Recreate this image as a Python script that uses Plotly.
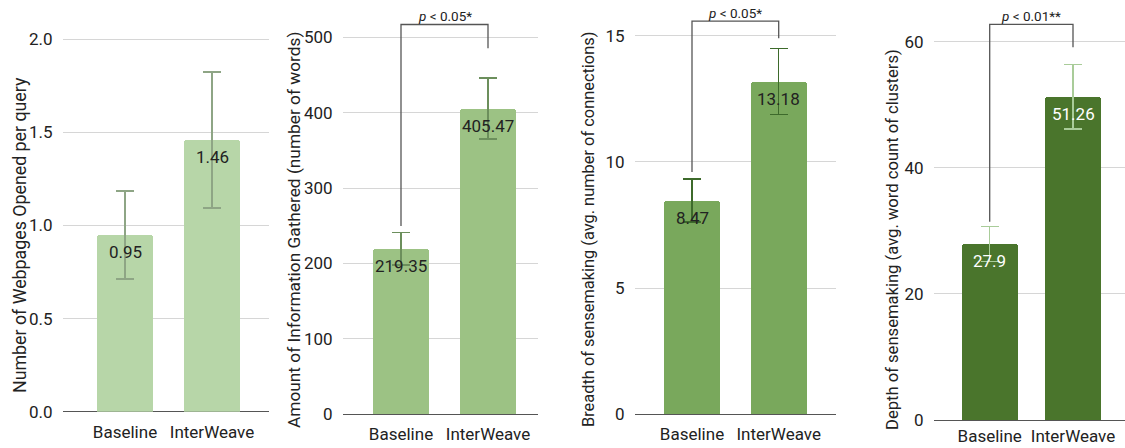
import plotly.graph_objects as go

# ---------------- data ----------------
categories = ["Baseline", "InterWeave"]

webpages_mean = [0.95, 1.46]
webpages_err = [0.236, 0.365]

info_mean = [219.35, 405.47]
info_err = [21.5, 40.5]

breadth_mean = [8.47, 13.18]
breadth_err = [0.85, 1.31]

depth_mean = [27.9, 51.26]
depth_err = [2.76, 5.1]

y_titles = [
    "Number of Webpages Opened per query",
    "Amount of Information Gathered (number of words)",
    "Breadth of sensemaking (avg. number of connections)",
    "Depth of sensemaking (avg. word count of clusters)",
]
sig_labels = [None, "<i>p</i> < 0.05*", "<i>p</i> < 0.05*", "<i>p</i> < 0.01**"]

tick_values = [
    [0, 0.5, 1.0, 1.5, 2.0],
    [0, 100, 200, 300, 400, 500],
    [0, 5, 10, 15],
    [0, 20, 40, 60],
]
tick_formats = [".1f", "d", "d", "d"]

# ---------------- styling / layout ----------------
W, H = 1125, 448
FONT = "Roboto, Arial, sans-serif"
bar_colors = ["#b7d6a8", "#9cc284", "#79a85c", "#4a752c"]
err_colors = ["#8ea585", "#6c8f5c", "#3d6a2b", "#a9cc99"]
label_colors = ["#222222", "#222222", "#222222", "#ffffff"]
title_sizes = [17.8, 17.3, 16.4, 16.6]

# pixel geometry per panel: x domain, zero-line px, px per unit, top px, bar-center px, spacing px
panels = [
    dict(x0=63, x1=269, zero=411.7, unit=186.2, top=30, c0=125, sp=87.0, tl=5),
    dict(x0=343, x1=538, zero=414.3, unit=0.754, top=3, c0=401, sp=87.0, tl=4),
    dict(x0=635, x1=836, zero=414.3, unit=25.24, top=3, c0=692, sp=86.7, tl=4),
    dict(x0=934, x1=1125, zero=420.0, unit=6.305, top=3, c0=989.7, sp=83.3, tl=1),
]
title_x = [19, 294, 589, 892]
title_y = [235, 230, 230, 240]
# bracket: (left leg bottom, top, right leg bottom) in data units
brackets = [None, (249.7, 517, 485.4), (9.6, 15.58, 14.9), (31.45, 62.76, 59.1)]

means = [webpages_mean, info_mean, breadth_mean, depth_mean]
errs = [webpages_err, info_err, breadth_err, depth_err]

fig = go.Figure()
annotations = []
shapes = []

for i, p in enumerate(panels):
    n = "" if i == 0 else str(i + 1)
    xa, ya = "x" + n, "y" + n
    xr = [(p["x0"] - p["c0"]) / p["sp"], (p["x1"] - p["c0"]) / p["sp"]]
    ymax = (p["zero"] - p["top"]) / p["unit"]
    fig.add_trace(go.Bar(
        x=categories, y=means[i], xaxis=xa, yaxis=ya,
        marker=dict(color=bar_colors[i], line=dict(width=0), cornerradius=3),
        width=56 / p["sp"],
        error_y=dict(type="data", array=errs[i], color=err_colors[i], thickness=1.5, width=9),
        showlegend=False, hoverinfo="skip",
    ))
    fig.update_layout(**{
        ("xaxis" + n): dict(
            domain=[p["x0"] / W, p["x1"] / W], range=xr, anchor=ya,
            showgrid=False, zeroline=False, showline=False, automargin=False,
            ticks="outside", ticklen=p["tl"], tickcolor="rgba(0,0,0,0)",
            tickfont=dict(family=FONT, size=17, color="#222222"),
            fixedrange=True,
        ),
        ("yaxis" + n): dict(
            domain=[1 - p["zero"] / H, 1 - p["top"] / H], range=[0, ymax], anchor=xa,
            tickvals=tick_values[i], tickformat=tick_formats[i], automargin=False,
            showgrid=True, gridcolor="#d6d6d6", gridwidth=1,
            zeroline=True, zerolinecolor="#555555", zerolinewidth=1.3,
            showline=False, ticks="outside", ticklen=6, tickcolor="rgba(0,0,0,0)",
            tickfont=dict(family=FONT, size=17, color="#222222"),
            fixedrange=True,
        ),
    })
    # value labels inside bars
    for c, v in zip(categories, means[i]):
        annotations.append(dict(
            x=c, y=v, xref=xa, yref=ya, text=f"{v:g}", showarrow=False,
            yanchor="middle", yshift=-17,
            font=dict(family=FONT, size=17, color=label_colors[i]),
        ))
    # y axis title
    annotations.append(dict(
        x=title_x[i] / W, y=1 - title_y[i] / H, xref="paper", yref="paper",
        text=y_titles[i], textangle=-90, showarrow=False,
        xanchor="center", yanchor="middle",
        font=dict(family=FONT, size=title_sizes[i], color="#222222"),
    ))
    # significance bracket
    if brackets[i] is not None:
        lb, tp, rb = brackets[i]
        shapes.append(dict(
            type="path", xref=xa, yref=ya,
            path=f"M 0,{lb} L 0,{tp} L 1,{tp} L 1,{rb}",
            line=dict(color="#555555", width=1.3),
        ))
        annotations.append(dict(
            x=0.5, y=tp, xref=xa, yref=ya, text=sig_labels[i], showarrow=False,
            yanchor="bottom", yshift=-2,
            font=dict(family=FONT, size=13.5, color="#222222"),
        ))

fig.update_layout(
    width=W, height=H,
    margin=dict(l=0, r=0, t=0, b=0, autoexpand=False),
    paper_bgcolor="white", plot_bgcolor="white",
    annotations=annotations, shapes=shapes,
    bargap=0,
)

fig.write_html(
    "out.html",
    config={"displayModeBar": False, "responsive": False},
    post_script="document.body.style.margin='0';document.body.style.padding='0';"
                "document.documentElement.style.overflow='hidden';",
)
